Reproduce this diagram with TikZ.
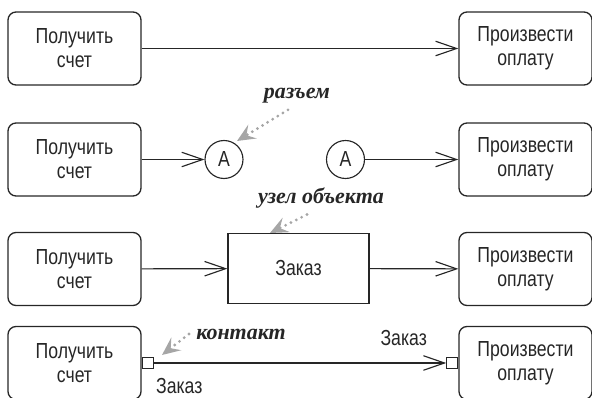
\documentclass[tikz,border=0pt]{standalone}
\usepackage{fontspec}
\setmainfont[FakeStretch=0.81]{Liberation Sans}
\newfontfamily\notefont{Liberation Serif}
\usepackage{xcolor}
\usepackage{tikz}
\usetikzlibrary{arrows.meta,positioning,calc}

\begin{document}
\begin{tikzpicture}[x=0.02cm, y=-0.02cm,
  font=\fontsize{12.4}{13.6}\selectfont,
  act/.style={draw=black!85, line width=0.75pt, rounded corners=0.16cm,
    minimum width=2.66cm, minimum height=1.46cm, align=center, text=black!85},
  obj/.style={draw=black!85, line width=0.75pt,
    minimum width=2.82cm, minimum height=1.4cm, text=black!85},
  conn/.style={draw=black!85, line width=0.65pt, circle, minimum size=0.76cm,
    inner sep=0pt, text=black!85},
  pinbox/.style={draw=black!85, line width=0.65pt, fill=white,
    minimum size=0.22cm, inner sep=0pt},
  flow/.style={draw=black!85, line width=0.65pt,
    -{Straight Barb[length=4.2mm, width=2.9mm, line width=0.65pt]}},
  lbl/.style={inner sep=0pt, text=black!85},
  notetxt/.style={font=\notefont\bfseries\itshape\fontsize{12.5}{14}\selectfont,
    text=black!85, inner sep=0pt},
  hint/.style={draw=black!35, line width=1.8pt, line cap=round,
    dash pattern=on 0pt off 3.4pt,
    -{Stealth[length=3.6mm, width=3.2mm, inset=1.4mm, fill=black!35]}}]
  \useasboundingbox (0,0) rectangle (592,398);
  % row 1: plain control flow
  \node[act] (get1) at (74.5,48.5) {Получить\\счет};
  \node[act] (pay1) at (525.5,48.5) {Произвести\\оплату};
  \draw[flow] (get1) -- (pay1);
  % row 2: flow split by a pair of connectors
  \node[act] (get2) at (74.5,159.5) {Получить\\счет};
  \node[act] (pay2) at (525.5,159.5) {Произвести\\оплату};
  \node[conn] (a1) at (224,159.5) {A};
  \node[conn] (a2) at (345.5,159.5) {A};
  \draw[flow] (get2) -- (a1);
  \draw[flow] (a2) -- (pay2);
  \node[notetxt] (nconn) at (297,96) {разъем};
  \coordinate (tconn) at (237,141);
  \draw[hint] ($(nconn.south)+(-9,6)$) -- (tconn);
  % row 3: object node between the actions
  \node[act] (get3) at (74.5,269) {Получить\\счет};
  \node[act] (pay3) at (525.5,269) {Произвести\\оплату};
  \node[obj] (ord) at (298.5,268.5) {Заказ};
  \draw[flow] (get3) -- (ord);
  \draw[flow] (ord) -- (pay3);
  \node[notetxt] (nobj) at (321,198) {узел объекта};
  \coordinate (tobj) at (270,233);
  \draw[hint] ($(nobj.south)+(-14,6)$) -- (tobj);
  % row 4: pins on both actions
  \node[act] (get4) at (74.5,363) {Получить\\счет};
  \node[act] (pay4) at (525.5,363) {Произвести\\оплату};
  \node[pinbox, right=0pt of get4] (pout) {};
  \node[pinbox, left=0pt of pay4] (pin4) {};
  \draw[flow] (pout) -- (pin4);
  \node[lbl, anchor=north west] (zout) at ($(pout.south east)+(2,9)$) {Заказ};
  \node[lbl, anchor=south east] (zin) at ($(pin4.north west)+(-19,-11)$) {Заказ};
  \node[notetxt] (npin) at (241,334) {контакт};
  \coordinate (tpin) at (162,355);
  \draw[hint] ($(npin.west)+(-7,0)$) -- (tpin);
\end{tikzpicture}
\end{document}
